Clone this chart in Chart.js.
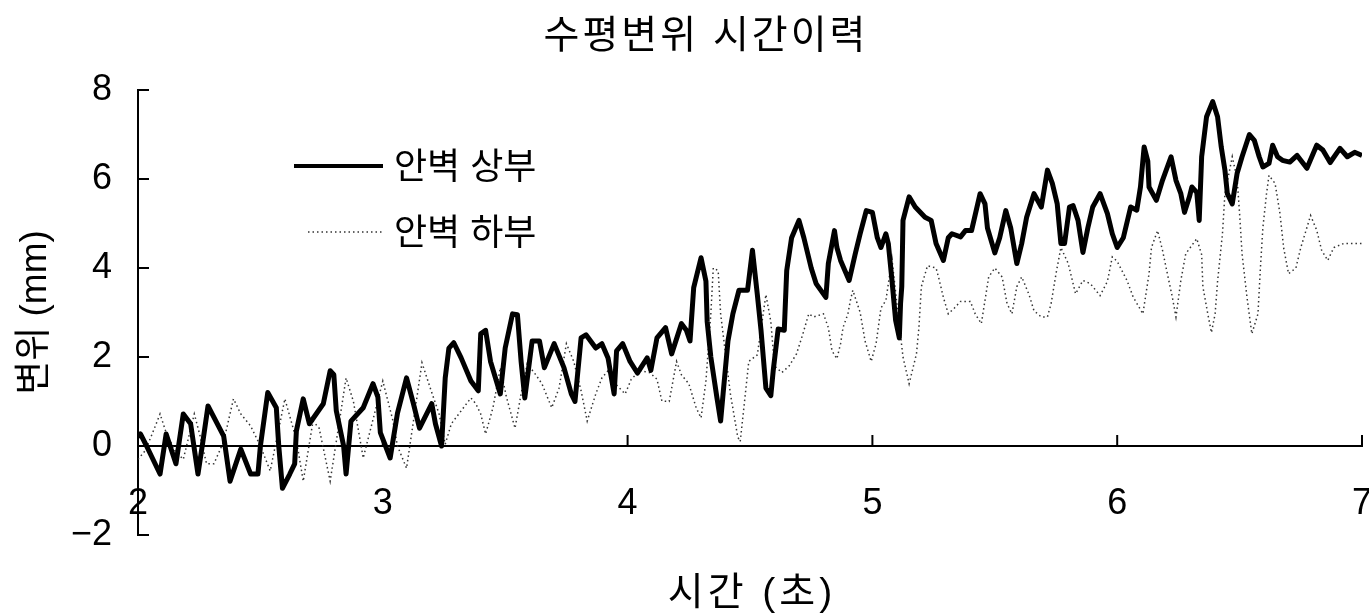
<!DOCTYPE html>
<html>
<head>
<meta charset="utf-8">
<script src="https://cdn.jsdelivr.net/npm/chart.js@4.4.1/dist/chart.umd.min.js"></script>
<style>
  html, body { margin: 0; padding: 0; background: #fff; }
  #chart { display: block; }
</style>
</head>
<body>
<canvas id="chart" width="1369" height="614"></canvas>
<script>
// 안벽 상부 (time s, displacement mm)
const upperTime = [2.00, 2.01, 2.035, 2.09, 2.115, 2.155, 2.185, 2.215, 2.245, 2.265, 2.286, 2.35, 2.376, 2.42, 2.46, 2.49, 2.50, 2.53, 2.565, 2.575, 2.59, 2.62, 2.64, 2.647, 2.675, 2.70, 2.757, 2.785, 2.80, 2.81, 2.84, 2.85, 2.87, 2.92, 2.96, 2.98, 2.99, 3.03, 3.06, 3.097, 3.125, 3.15, 3.20, 3.215, 3.24, 3.255, 3.27, 3.29, 3.32, 3.36, 3.39, 3.40, 3.42, 3.44, 3.48, 3.50, 3.53, 3.55, 3.565, 3.58, 3.61, 3.64, 3.66, 3.70, 3.74, 3.77, 3.785, 3.81, 3.83, 3.87, 3.895, 3.92, 3.945, 3.955, 3.98, 4.01, 4.04, 4.08, 4.095, 4.12, 4.155, 4.18, 4.22, 4.24, 4.255, 4.27, 4.30, 4.32, 4.325, 4.34, 4.365, 4.38, 4.39, 4.41, 4.43, 4.455, 4.49, 4.51, 4.53, 4.545, 4.565, 4.585, 4.595, 4.615, 4.64, 4.65, 4.67, 4.70, 4.72, 4.75, 4.77, 4.81, 4.82, 4.845, 4.855, 4.87, 4.905, 4.93, 4.95, 4.975, 5.00, 5.02, 5.035, 5.055, 5.065, 5.08, 5.095, 5.11, 5.115, 5.12, 5.125, 5.15, 5.175, 5.215, 5.24, 5.26, 5.29, 5.31, 5.325, 5.36, 5.38, 5.405, 5.44, 5.46, 5.47, 5.50, 5.52, 5.545, 5.565, 5.59, 5.61, 5.63, 5.66, 5.69, 5.715, 5.735, 5.755, 5.77, 5.785, 5.805, 5.82, 5.84, 5.86, 5.88, 5.90, 5.93, 5.96, 5.98, 6.00, 6.025, 6.055, 6.08, 6.095, 6.11, 6.125, 6.13, 6.16, 6.185, 6.22, 6.24, 6.26, 6.275, 6.295, 6.305, 6.325, 6.335, 6.345, 6.365, 6.39, 6.41, 6.425, 6.44, 6.45, 6.47, 6.49, 6.51, 6.54, 6.56, 6.58, 6.595, 6.62, 6.635, 6.655, 6.675, 6.705, 6.735, 6.775, 6.815, 6.84, 6.87, 6.91, 6.94, 6.97, 7.00];
const upperDisp = [0.2, 0.27, 0.0, -0.63, 0.27, -0.4, 0.72, 0.5, -0.63, 0.1, 0.9, 0.22, -0.79, -0.07, -0.63, -0.63, 0.0, 1.2, 0.86, 0.0, -0.95, -0.63, -0.4, 0.34, 1.06, 0.5, 0.95, 1.69, 1.6, 0.79, 0.0, -0.63, 0.56, 0.86, 1.4, 1.1, 0.3, -0.27, 0.74, 1.53, 0.95, 0.4, 0.95, 0.5, 0.0, 1.53, 2.2, 2.32, 1.98, 1.46, 1.24, 2.52, 2.6, 1.9, 1.17, 2.2, 2.97, 2.95, 1.9, 1.08, 2.36, 2.36, 1.76, 2.3, 1.76, 1.17, 1.0, 2.43, 2.5, 2.2, 2.3, 1.98, 1.17, 2.14, 2.3, 1.9, 1.64, 1.98, 1.7, 2.43, 2.66, 2.07, 2.75, 2.6, 2.36, 3.56, 4.23, 3.7, 2.8, 2.0, 1.08, 0.56, 1.17, 2.36, 2.97, 3.5, 3.5, 4.4, 3.4, 2.6, 1.3, 1.13, 1.7, 2.63, 2.6, 3.94, 4.68, 5.07, 4.68, 4.0, 3.65, 3.34, 4.1, 4.84, 4.46, 4.17, 3.72, 4.32, 4.77, 5.29, 5.25, 4.68, 4.46, 4.77, 4.55, 3.72, 2.82, 2.43, 3.2, 3.58, 5.07, 5.6, 5.37, 5.14, 5.07, 4.55, 4.17, 4.68, 4.77, 4.7, 4.84, 4.84, 5.67, 5.44, 4.9, 4.34, 4.68, 5.29, 4.9, 4.1, 4.55, 5.14, 5.67, 5.37, 6.2, 5.9, 5.44, 4.55, 4.55, 5.37, 5.4, 5.07, 4.35, 4.9, 5.37, 5.67, 5.22, 4.77, 4.46, 4.68, 5.37, 5.3, 5.82, 6.72, 6.4, 5.82, 5.52, 5.97, 6.5, 5.97, 5.67, 5.25, 5.6, 5.82, 5.7, 5.07, 6.5, 7.4, 7.74, 7.4, 6.72, 6.2, 5.67, 5.44, 6.13, 6.5, 7.0, 6.87, 6.5, 6.27, 6.35, 6.76, 6.5, 6.42, 6.38, 6.53, 6.24, 6.76, 6.65, 6.37, 6.69, 6.5, 6.6, 6.53];

// 안벽 하부 (time s, displacement mm)
const lowerTime = [2.00, 2.03, 2.06, 2.09, 2.115, 2.15, 2.185, 2.23, 2.255, 2.28, 2.31, 2.35, 2.39, 2.42, 2.46, 2.50, 2.54, 2.60, 2.647, 2.675, 2.715, 2.74, 2.785, 2.85, 2.88, 2.92, 3.00, 3.04, 3.06, 3.097, 3.16, 3.20, 3.23, 3.255, 3.28, 3.32, 3.36, 3.38, 3.40, 3.42, 3.45, 3.48, 3.505, 3.54, 3.565, 3.59, 3.625, 3.65, 3.69, 3.72, 3.75, 3.78, 3.81, 3.835, 3.87, 3.895, 3.92, 3.95, 3.99, 4.015, 4.05, 4.09, 4.12, 4.14, 4.17, 4.18, 4.20, 4.22, 4.25, 4.28, 4.30, 4.32, 4.34, 4.35, 4.37, 4.38, 4.40, 4.42, 4.45, 4.46, 4.475, 4.495, 4.53, 4.565, 4.585, 4.60, 4.63, 4.66, 4.69, 4.715, 4.74, 4.76, 4.80, 4.82, 4.835, 4.855, 4.87, 4.88, 4.90, 4.91, 4.92, 4.95, 4.97, 4.995, 5.015, 5.035, 5.055, 5.08, 5.10, 5.125, 5.15, 5.18, 5.19, 5.20, 5.225, 5.26, 5.27, 5.29, 5.31, 5.335, 5.36, 5.40, 5.42, 5.445, 5.455, 5.475, 5.50, 5.53, 5.55, 5.57, 5.59, 5.61, 5.64, 5.66, 5.69, 5.715, 5.73, 5.75, 5.77, 5.80, 5.83, 5.86, 5.89, 5.93, 5.96, 5.98, 6.00, 6.04, 6.065, 6.105, 6.13, 6.14, 6.165, 6.185, 6.205, 6.225, 6.24, 6.26, 6.28, 6.325, 6.345, 6.35, 6.37, 6.385, 6.40, 6.41, 6.43, 6.44, 6.47, 6.49, 6.50, 6.51, 6.53, 6.55, 6.575, 6.585, 6.595, 6.61, 6.62, 6.645, 6.665, 6.68, 6.70, 6.73, 6.75, 6.79, 6.815, 6.835, 6.86, 6.885, 6.925, 7.00];
const lowerDisp = [-0.3, -0.1, 0.3, 0.72, 0.3, -0.1, -0.3, 0.72, 0.2, -0.4, -0.4, 0.1, 1.06, 0.72, 0.45, 0.0, -0.56, 1.06, 0.14, -0.79, 0.56, 0.4, -0.79, 1.53, 1.0, -0.27, 1.46, 0.6, 0.0, -0.5, 1.87, 1.2, 0.72, 0.04, 0.5, 0.79, 1.08, 0.95, 0.72, 0.27, 0.86, 1.76, 1.1, 0.4, 1.17, 1.85, 1.6, 1.4, 0.86, 1.3, 2.3, 1.9, 1.24, 0.56, 1.17, 1.53, 1.69, 1.4, 1.17, 1.5, 1.69, 1.65, 1.5, 1.01, 1.0, 1.3, 1.9, 1.6, 1.4, 0.86, 0.63, 1.46, 2.97, 4.0, 3.94, 2.97, 2.07, 1.17, 0.2, 0.1, 0.86, 1.9, 2.05, 3.4, 2.8, 1.8, 1.65, 1.8, 2.07, 2.5, 2.97, 2.9, 2.97, 2.66, 2.14, 1.96, 2.3, 2.66, 2.97, 3.27, 3.5, 3.0, 2.36, 1.9, 2.3, 3.1, 3.27, 4.2, 3.2, 2.0, 1.4, 2.07, 2.66, 3.58, 4.05, 4.0, 3.8, 3.34, 2.97, 3.1, 3.25, 3.25, 2.97, 2.75, 3.1, 3.8, 4.0, 3.8, 3.2, 2.97, 3.58, 3.8, 3.4, 3.04, 2.9, 2.9, 3.2, 3.87, 4.46, 4.1, 3.42, 3.72, 3.65, 3.38, 3.7, 4.25, 4.15, 3.72, 3.35, 2.97, 3.87, 4.46, 4.84, 4.4, 3.87, 3.35, 2.9, 3.72, 4.32, 4.66, 4.3, 3.58, 2.97, 2.55, 2.97, 3.7, 4.77, 5.67, 6.5, 6.0, 5.22, 4.32, 3.35, 2.52, 2.97, 4.0, 4.9, 5.67, 6.08, 5.9, 5.22, 4.45, 3.87, 4.0, 4.46, 5.18, 4.85, 4.4, 4.17, 4.46, 4.55, 4.55];

const xTickValues = [2, 3, 4, 5, 6, 7];
const yTickValues = [-2, 0, 2, 4, 6, 8];

const FONT = "'Liberation Sans', 'Noto Sans CJK KR', sans-serif";

// title, x title, inward tick marks and legend
const decorations = {
    id: 'decorations',
    afterDraw(chart) {
        const ctx = chart.ctx;
        const xs = chart.scales.x;
        const ys = chart.scales.y;
        ctx.save();
        ctx.fillStyle = '#000';
        ctx.textBaseline = 'middle';
        ctx.textAlign = 'center';
        ctx.letterSpacing = '3px';
        ctx.font = '39px ' + FONT;
        ctx.fillText('수평변위 시간이력', 706, 37);
        ctx.letterSpacing = '4px';
        ctx.font = '39px ' + FONT;
        ctx.fillText('시간 (초)', 752, 594);
        ctx.letterSpacing = '0px';

        // inward ticks
        ctx.strokeStyle = '#000';
        ctx.lineWidth = 2;
        const y0 = ys.getPixelForValue(0);
        xTickValues.forEach(v => {
            if (v === xTickValues[0]) return;
            const px = xs.getPixelForValue(v);
            ctx.beginPath();
            ctx.moveTo(px, y0);
            ctx.lineTo(px, y0 - 11);
            ctx.stroke();
        });
        yTickValues.forEach(v => {
            const py = ys.getPixelForValue(v);
            ctx.beginPath();
            ctx.moveTo(chart.chartArea.left, py);
            ctx.lineTo(chart.chartArea.left + 11, py);
            ctx.stroke();
        });

        // legend
        ctx.textAlign = 'left';
        ctx.font = '36px ' + FONT;
        ctx.lineWidth = 4;
        ctx.beginPath();
        ctx.moveTo(294, 166);
        ctx.lineTo(383, 166);
        ctx.stroke();
        ctx.fillText('안벽 상부', 394, 169);

        ctx.strokeStyle = '#333';
        ctx.lineWidth = 1.5;
        ctx.setLineDash([1.5, 3]);
        ctx.beginPath();
        ctx.moveTo(308, 232);
        ctx.lineTo(383, 232);
        ctx.stroke();
        ctx.setLineDash([]);
        ctx.fillText('안벽 하부', 394, 235);
        ctx.restore();
    }
};

new Chart(document.getElementById('chart'), {
    type: 'line',
    data: {
        datasets: [{
            label: '안벽 상부',
            data: upperTime.map((t, i) => ({x: t, y: upperDisp[i]})),
            borderColor: '#000',
            borderWidth: 5,
            borderJoinStyle: 'round',
            pointRadius: 0,
            tension: 0
        }, {
            label: '안벽 하부',
            data: lowerTime.map((t, i) => ({x: t, y: lowerDisp[i]})),
            borderColor: '#333',
            borderWidth: 1.5,
            borderDash: [1.5, 3],
            pointRadius: 0,
            tension: 0
        }]
    },
    options: {
        responsive: false,
        animation: false,
        devicePixelRatio: 1,
        layout: {
            padding: {top: 90, right: 7, bottom: 79, left: 0}
        },
        plugins: {
            legend: {display: false},
            title: {display: false},
            tooltip: {enabled: false}
        },
        scales: {
            x: {
                type: 'linear',
                min: 2,
                max: 7,
                position: {y: 0},
                border: {display: true, color: '#000', width: 2},
                grid: {drawOnChartArea: false, drawTicks: false},
                ticks: {
                    color: '#000',
                    font: {family: FONT, size: 36},
                    padding: 36
                },
                afterBuildTicks: scale => {
                    scale.ticks = xTickValues.map(v => ({value: v}));
                },
                afterFit: scale => {
                    scale.paddingLeft = 0;
                    scale.paddingRight = 0;
                }
            },
            y: {
                type: 'linear',
                min: -2,
                max: 8,
                position: 'left',
                border: {display: true, color: '#000', width: 2},
                grid: {drawOnChartArea: false, drawTicks: false},
                ticks: {
                    color: '#000',
                    font: {family: FONT, size: 36},
                    padding: 26,
                    callback: v => (v < 0 ? '\u2212' + Math.abs(v) : String(v))
                },
                title: {
                    display: true,
                    text: '변위 (mm)',
                    color: '#000',
                    font: {family: FONT, size: 37},
                    padding: {top: 14, bottom: 0}
                },
                afterBuildTicks: scale => {
                    scale.ticks = yTickValues.map(v => ({value: v}));
                },
                afterFit: scale => {
                    scale.width = 138;
                }
            }
        }
    },
    plugins: [decorations]
});
</script>
</body>
</html>
